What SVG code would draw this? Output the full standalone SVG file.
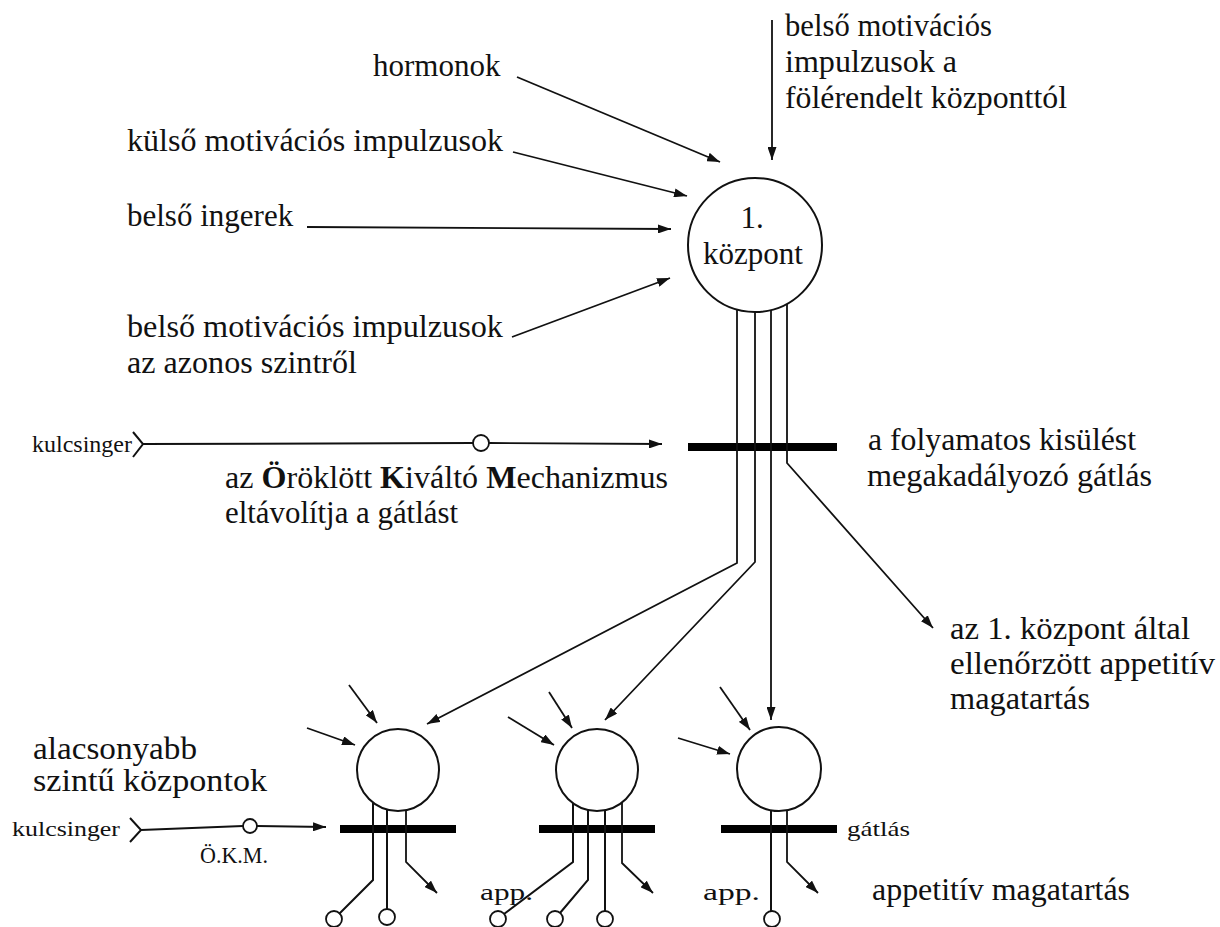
<svg xmlns="http://www.w3.org/2000/svg" width="1220" height="927" viewBox="0 0 1220 927" font-family="'Liberation Serif', 'Times New Roman', serif">
<defs>
<style>
text{font-family:"Liberation Serif","Times New Roman",serif;fill:#111}
.t{font-size:31px}
.s{font-size:24px}
.xs{font-size:21px}
.ln{fill:none;stroke:#111;stroke-width:2}
.ar{fill:none;stroke:#111;stroke-width:1.8;marker-end:url(#ah)}
.c{fill:#fff;stroke:#111;stroke-width:2}
.sc{fill:#fff;stroke:#111;stroke-width:1.8}
.bar{fill:#000}
</style>
<marker id="ah" markerUnits="userSpaceOnUse" markerWidth="13" markerHeight="9" refX="13" refY="4.5" orient="auto">
<path d="M0,0 L13,4.5 L0,9 z" fill="#111"/>
</marker>
</defs>
<rect width="1220" height="927" fill="#fff"/>

<g id="labels-top">
<text class="t" x="373" y="76">hormonok</text>
<text class="t" x="127" y="151" textLength="376" lengthAdjust="spacingAndGlyphs">külső motivációs  impulzusok</text>
<text class="t" x="127" y="226">belső ingerek</text>
<text class="t" x="127" y="337" textLength="376" lengthAdjust="spacingAndGlyphs">belső motivációs  impulzusok</text>
<text class="t" x="127" y="373" textLength="230" lengthAdjust="spacingAndGlyphs">az azonos szintről</text>
<text class="t" x="785" y="36" textLength="207" lengthAdjust="spacingAndGlyphs">belső motivációs</text>
<text class="t" x="785" y="72" textLength="172" lengthAdjust="spacingAndGlyphs">impulzusok a</text>
<text class="t" x="785" y="108" textLength="282" lengthAdjust="spacingAndGlyphs">fölérendelt központtól</text>
</g>

<g id="center-1">
<circle class="c" cx="755" cy="245" r="67"/>
<text class="t" x="752" y="228" text-anchor="middle">1.</text>
<text class="t" x="753" y="264" text-anchor="middle" textLength="100" lengthAdjust="spacingAndGlyphs">központ</text>
<rect class="bar" x="688" y="443" width="149" height="8"/>
</g>

<g id="ikm-main">
<text class="s" x="32" y="452" textLength="100" lengthAdjust="spacingAndGlyphs">kulcsinger</text>
<path class="ln" d="M133,432 L143,444 L133,457"/>
<circle class="sc" cx="481" cy="443" r="8"/>
<text class="t" x="225" y="488" textLength="443" lengthAdjust="spacingAndGlyphs">az <tspan font-weight="bold">Ö</tspan>röklött <tspan font-weight="bold">K</tspan>iváltó <tspan font-weight="bold">M</tspan>echanizmus</text>
<text class="t" x="225" y="523" textLength="233" lengthAdjust="spacingAndGlyphs">eltávolítja a gátlást</text>
</g>

<g id="labels-right">
<text class="t" x="868" y="450" textLength="268" lengthAdjust="spacingAndGlyphs">a folyamatos kisülést</text>
<text class="t" x="867" y="486" textLength="285" lengthAdjust="spacingAndGlyphs">megakadályozó gátlás</text>
<text class="t" x="950" y="639" textLength="240" lengthAdjust="spacingAndGlyphs">az 1. központ által</text>
<text class="t" x="950" y="674" textLength="265" lengthAdjust="spacingAndGlyphs">ellenőrzött appetitív</text>
<text class="t" x="950" y="709" textLength="140" lengthAdjust="spacingAndGlyphs">magatartás</text>
</g>

<g id="lower-1">
<text class="t" x="33" y="759" textLength="164" lengthAdjust="spacingAndGlyphs">alacsonyabb</text>
<text class="t" x="33" y="791" textLength="234" lengthAdjust="spacingAndGlyphs">szintű központok</text>
<text class="xs" x="12" y="836" textLength="108" lengthAdjust="spacingAndGlyphs">kulcsinger</text>
<path class="ln" d="M130,818 L141,830 L130,842"/>
<circle class="sc" cx="250" cy="826" r="7"/>
<text class="s" x="200" y="863" textLength="68" lengthAdjust="spacingAndGlyphs">Ö.K.M.</text>
<circle class="c" cx="398" cy="770" r="41"/>
<rect class="bar" x="340" y="825" width="116" height="8"/>
<circle class="sc" cx="334" cy="919" r="8"/>
<circle class="sc" cx="387" cy="917" r="8"/>
</g>

<g id="lower-2">
<circle class="c" cx="597" cy="770" r="41"/>
<rect class="bar" x="539" y="825" width="116" height="8"/>
<text class="s" x="480" y="900" textLength="53" lengthAdjust="spacingAndGlyphs">app.</text>
<circle class="sc" cx="498" cy="919" r="8"/>
<circle class="sc" cx="555" cy="919" r="8"/>
<circle class="sc" cx="605" cy="919" r="8"/>
</g>

<g id="lower-3">
<circle class="c" cx="779" cy="769" r="42"/>
<rect class="bar" x="721" y="825" width="116" height="8"/>
<text class="xs" x="847" y="836" textLength="63" lengthAdjust="spacingAndGlyphs">gátlás</text>
<text class="s" x="703" y="900" textLength="57" lengthAdjust="spacingAndGlyphs">app.</text>
<text class="t" x="872" y="900" textLength="258" lengthAdjust="spacingAndGlyphs">appetitív magatartás</text>
<circle class="sc" cx="772" cy="919" r="8"/>
</g>

<g id="connectors">
<line class="ar" x1="517" y1="77" x2="720" y2="162"/>
<line class="ar" x1="513" y1="152" x2="687" y2="196"/>
<line class="ar" x1="307" y1="227" x2="671" y2="229"/>
<line class="ar" x1="512" y1="337" x2="670" y2="278"/>
<line class="ar" x1="772" y1="20" x2="772" y2="160"/>
<line class="ln" x1="143" y1="444" x2="473" y2="443"/>
<line class="ar" x1="489" y1="443" x2="662" y2="444"/>
<path class="ar" d="M737,310 V563 L427,724"/>
<path class="ar" d="M755,311 V562 L605,720"/>
<path class="ar" d="M771,310 V720"/>
<path class="ar" d="M787,304 V463 L933,628"/>
<line class="ln" x1="141" y1="830" x2="243" y2="826"/>
<line class="ar" x1="257" y1="826" x2="326" y2="827"/>
<line class="ar" x1="349" y1="685" x2="377" y2="723"/>
<line class="ar" x1="307" y1="728" x2="355" y2="745"/>
<line class="ar" x1="549" y1="692" x2="572" y2="728"/>
<line class="ar" x1="508" y1="717" x2="554" y2="745"/>
<line class="ar" x1="720" y1="687" x2="750" y2="730"/>
<line class="ar" x1="678" y1="738" x2="730" y2="754"/>
<path class="ln" d="M373,803 V880 L339,914"/>
<path class="ln" d="M387,810 V909"/>
<path class="ar" d="M406,810 V862 L437,893"/>
<path class="ln" d="M573,803 V862 L504,914"/>
<path class="ln" d="M588,810 V880 L560,913"/>
<path class="ln" d="M605,810 V911"/>
<path class="ar" d="M622,802 V863 L653,893"/>
<path class="ln" d="M771,810 V911"/>
<path class="ar" d="M787,810 V862 L818,893"/>
</g>
</svg>
